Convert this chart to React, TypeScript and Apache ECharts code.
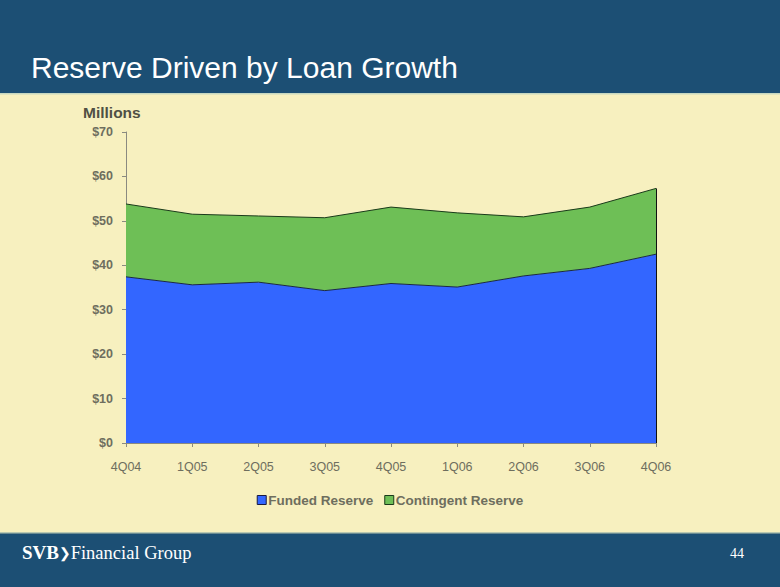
import React, { useEffect, useRef } from "react";
import * as echarts from "echarts";

const quarters = ["4Q04", "1Q05", "2Q05", "3Q05", "4Q05", "1Q06", "2Q06", "3Q06", "4Q06"];
const fundedReserve = [37.4, 35.6, 36.2, 34.3, 35.9, 35.1, 37.6, 39.3, 42.5];
const contingentReserve = [16.4, 15.9, 14.9, 16.4, 17.2, 16.7, 13.3, 13.8, 14.8];
const yTicks = [0, 10, 20, 30, 40, 50, 60, 70];

const FONT = "'Liberation Sans', Arial, sans-serif";
const SERIF = "'Liberation Serif', 'DejaVu Serif', serif";
const NAVY = "#1c4f74";
const CREAM = "#f7f0bf";
const LABEL = "#6e6e5e";

export default function App() {
  const ref = useRef<HTMLDivElement>(null);

  useEffect(() => {
    if (!ref.current) return;
    const chart = echarts.init(ref.current, undefined, { renderer: "svg" });
    const last = quarters.length - 1;
    const lastTotal = fundedReserve[last] + contingentReserve[last];

    chart.setOption({
      animation: false,
      backgroundColor: CREAM,
      textStyle: { fontFamily: FONT },
      grid: { left: 126, right: 124, top: 132, bottom: 144 },
      graphic: [
        { type: "rect", left: 0, top: 0, shape: { width: 780, height: 93 }, style: { fill: NAVY }, z: 0 },
        { type: "rect", left: 0, top: 93, shape: { width: 780, height: 1.5 }, style: { fill: "#c8d8c0" }, z: 0 },
        {
          type: "text", left: 31, top: 52,
          style: { text: "Reserve Driven by Loan Growth", fill: "#ffffff", font: `30px ${FONT}` },
        },
        {
          type: "text", left: 83, top: 104,
          style: { text: "Millions", fill: "#505044", font: `bold 15.5px ${FONT}` },
        },
        { type: "rect", left: 0, top: 533, shape: { width: 780, height: 54 }, style: { fill: NAVY }, z: 0 },
        { type: "rect", left: 0, top: 532, shape: { width: 780, height: 1.5 }, style: { fill: "#b8c8b0" }, z: 0 },
        {
          type: "text", left: 22, top: 543,
          style: {
            text: "{a|SVB}{b|\u276F}{c|Financial Group}",
            rich: {
              a: { fill: "#ffffff", font: `bold 19px ${SERIF}` },
              b: { fill: "#ffffff", font: `bold 14px 'DejaVu Sans', sans-serif` },
              c: { fill: "#ffffff", font: `18.5px ${SERIF}` },
            },
          },
        },
        {
          type: "text", left: 730, top: 546,
          style: { text: "44", fill: "#ffffff", font: `14px ${SERIF}` },
        },
      ],
      legend: {
        top: 488,
        left: "center",
        itemWidth: 9,
        itemHeight: 9,
        itemGap: 11,
        icon: "rect",
        textStyle: { color: LABEL, fontSize: 13.5, fontWeight: "bold", fontFamily: FONT, padding: [0, 0, 0, -3] },
        data: [
          { name: "Funded Reserve", itemStyle: { borderColor: "#1a1a40", borderWidth: 1 } },
          { name: "Contingent Reserve", itemStyle: { borderColor: "#1a3a1a", borderWidth: 1 } },
        ],
      },
      xAxis: {
        type: "category",
        data: quarters,
        boundaryGap: false,
        axisLine: { lineStyle: { color: "#8a8a80", width: 1 } },
        axisTick: { show: true, length: 4, lineStyle: { color: "#8a8a80" } },
        axisLabel: { color: LABEL, fontSize: 12.5, fontWeight: "normal", margin: 17, fontFamily: FONT },
        splitLine: { show: false },
      },
      yAxis: {
        type: "value",
        min: yTicks[0],
        max: yTicks[yTicks.length - 1],
        interval: 10,
        axisLine: { show: true, lineStyle: { color: "#8a8a80", width: 1 } },
        axisTick: { show: true, length: 4, lineStyle: { color: "#8a8a80" } },
        axisLabel: { color: LABEL, fontSize: 12.5, fontWeight: "bold", margin: 13, fontFamily: FONT, formatter: (v: number) => "$" + v },
        splitLine: { show: false },
      },
      series: [
        {
          name: "Funded Reserve",
          type: "line",
          stack: "total",
          data: fundedReserve,
          symbol: "none",
          color: "#3366ff",
          lineStyle: { color: "#1a2a40", width: 1 },
          areaStyle: { color: "#3366ff", opacity: 1 },
          z: 3,
        },
        {
          name: "Contingent Reserve",
          type: "line",
          stack: "total",
          data: contingentReserve,
          symbol: "none",
          color: "#6ebf56",
          lineStyle: { color: "#1a3a1a", width: 1 },
          areaStyle: { color: "#6ebf56", opacity: 1 },
          z: 2,
          markLine: {
            silent: true,
            symbol: "none",
            label: { show: false },
            lineStyle: { color: "#111111", width: 1, type: "solid" },
            data: [[{ coord: [quarters[last], 0] }, { coord: [quarters[last], lastTotal] }]],
          },
        },
      ],
    });
    return () => chart.dispose();
  }, []);

  return (
    <div
      ref={ref}
      style={{ position: "absolute", left: 0, top: 0, width: 780, height: 587 }}
    />
  );
}
